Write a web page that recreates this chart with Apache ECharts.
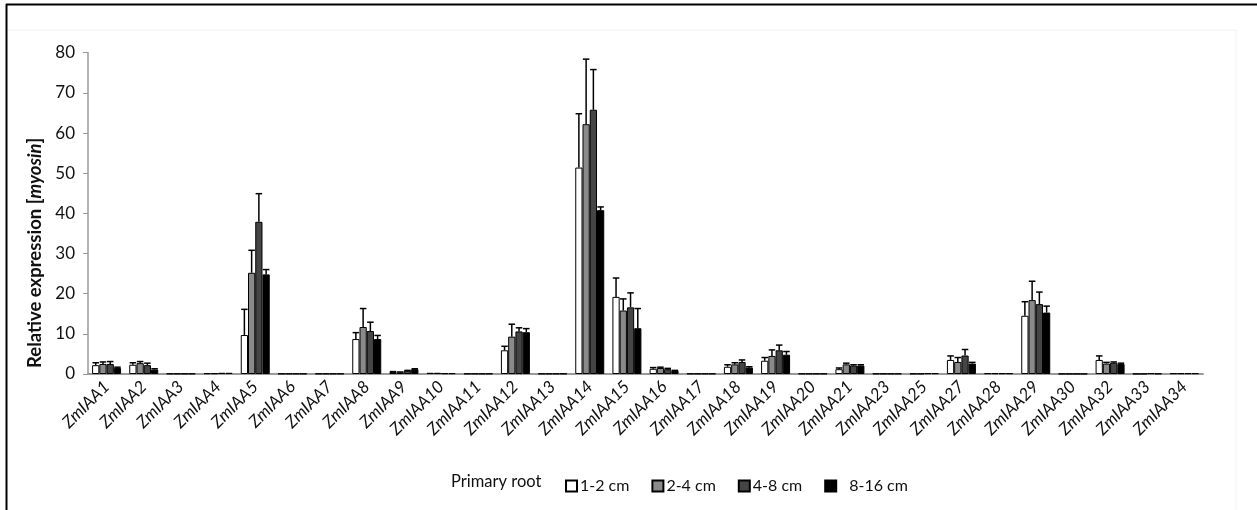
<!DOCTYPE html>
<html>
<head>
<meta charset="utf-8">
<script src="https://cdn.jsdelivr.net/npm/echarts@6/dist/echarts.min.js"></script>
<style>
html,body{margin:0;padding:0;background:#fff;}
#chart{width:1257px;height:510px;}
</style>
</head>
<body>
<div id="chart"></div>
<script>
var categories = ['ZmIAA1','ZmIAA2','ZmIAA3','ZmIAA4','ZmIAA5','ZmIAA6','ZmIAA7','ZmIAA8','ZmIAA9','ZmIAA10','ZmIAA11','ZmIAA12','ZmIAA13','ZmIAA14','ZmIAA15','ZmIAA16','ZmIAA17','ZmIAA18','ZmIAA19','ZmIAA20','ZmIAA21','ZmIAA23','ZmIAA25','ZmIAA27','ZmIAA28','ZmIAA29','ZmIAA30','ZmIAA32','ZmIAA33','ZmIAA34'];
var seriesNames = ['1-2 cm','2-4 cm','4-8 cm','8-16 cm'];
var v12 = [2.2,2.3,0.1,0.2,9.7,0.1,0.1,8.7,0.5,0.3,0.1,5.9,0.1,51.4,19.2,1.3,0.1,1.8,3.3,0.1,1.2,0.1,0.1,3.5,0.2,14.5,0.05,3.5,0.05,0.2];
var e12 = [0.6,0.5,0,0,6.4,0,0,1.6,0.1,0,0,1.0,0,13.4,4.7,0.3,0,0.5,0.8,0,0.3,0,0,1.0,0,3.5,0,1.0,0,0];
var v24 = [2.5,2.7,0.1,0.2,25.2,0.1,0.1,11.7,0.4,0.3,0.1,9.3,0.1,62.2,15.8,1.5,0.1,2.4,4.5,0.1,2.4,0.1,0.1,3.0,0.2,18.4,0.05,2.6,0.05,0.2];
var e24 = [0.5,0.4,0,0,5.6,0,0,4.6,0.1,0,0,3.1,0,16.2,2.9,0.2,0,0.4,1.5,0,0.3,0,0,1.1,0,4.7,0,0.3,0,0];
var v48 = [2.5,2.2,0.1,0.3,37.9,0.1,0.1,10.7,0.8,0.2,0.1,10.6,0.1,65.8,16.6,1.2,0.1,3.0,5.9,0.1,2.1,0.1,0.2,4.6,0.2,17.4,0.05,2.8,0.2,0.2];
var e48 = [0.6,0.5,0,0,7.0,0,0,2.2,0.1,0,0,0.9,0,10.0,3.6,0.2,0,0.5,1.3,0,0.2,0,0,1.5,0,3.0,0,0.2,0,0];
var v816 = [1.5,1.1,0.1,0.3,24.8,0.1,0.1,8.7,1.2,0.2,0.1,10.4,0.1,40.8,11.4,0.8,0.1,1.6,4.8,0.1,2.1,0.1,0.2,2.6,0.2,15.3,0.05,2.5,0.1,0.2];
var e816 = [0.2,0.2,0,0,1.2,0,0,0.9,0.1,0,0,0.9,0,0.8,4.9,0.1,0,0.2,0.8,0,0.2,0,0,0.3,0,1.6,0,0.2,0,0];
var yTicks = [0,10,20,30,40,50,60,70,80];

var values = [v12, v24, v48, v816];
var errors = [e12, e24, e48, e816];
var colors = ['#ffffff','#8a8a8a','#454545','#000000'];
var CAT_GAP = 0.22;
var FONT = 'Lato, "Open Sans", sans-serif';

var chart = echarts.init(document.getElementById('chart'));
var series = [];
seriesNames.forEach(function(name, i){
  series.push({
    name: name,
    type: 'bar',
    data: values[i],
    barGap: '0%',
    barCategoryGap: (CAT_GAP*100)+'%',
    itemStyle: {color: colors[i], borderColor: '#000', borderWidth: 1},
    emphasis: {disabled: true},
    z: 2
  });
});
seriesNames.forEach(function(name, i){
  var data = values[i].map(function(v, k){ return [k, v, v + errors[i][k]]; });
  series.push({
    name: name + ' err',
    type: 'custom',
    data: data,
    z: 3,
    silent: true,
    renderItem: function(params, api){
      var k = api.value(0);
      if (api.value(2) <= api.value(1)) return null;
      var center = api.coord([k, 0]);
      var catW = api.size([1, 0])[0];
      var bw = catW * (1 - CAT_GAP) / 4;
      var x = center[0] + (i - 1.5) * bw;
      var y0 = api.coord([k, api.value(1)])[1];
      var y1 = api.coord([k, api.value(2)])[1];
      var cap = bw * 0.9;
      var st = {stroke: '#000', lineWidth: 1.5};
      return {type: 'group', children: [
        {type: 'line', shape: {x1: x, y1: y0, x2: x, y2: y1}, style: st},
        {type: 'line', shape: {x1: x - cap/2, y1: y1, x2: x + cap/2, y2: y1}, style: st}
      ]};
    },
    encode: {x: 0, y: [1, 2]}
  });
});

var legendData = seriesNames.map(function(n, i){
  return i === 3 ? {name: n, textStyle: {padding: [0,0,0,8]}} : {name: n};
});

chart.setOption({
  backgroundColor: '#ffffff',
  animation: false,
  grid: {left: 88, right: 54, top: 52.7, bottom: 136, containLabel: false},
  legend: {
    data: legendData,
    left: 560, top: 473,
    itemWidth: 11, itemHeight: 11, itemGap: 22,
    icon: 'rect',
    textStyle: {fontFamily: FONT, fontSize: 16, color: '#111', padding: [0,0,0,-2]},
    selectedMode: false
  },
  graphic: [
    {type: 'line', shape: {x1: 6, y1: 4.5, x2: 1257, y2: 4.5}, style: {stroke: '#000', lineWidth: 2}},
    {type: 'line', shape: {x1: 6.5, y1: 4, x2: 6.5, y2: 510}, style: {stroke: '#000', lineWidth: 2}},
    {type: 'line', shape: {x1: 8, y1: 30, x2: 1236, y2: 30}, style: {stroke: '#f2f2f2', lineWidth: 1}},
    {type: 'line', shape: {x1: 1236, y1: 30, x2: 1236, y2: 510}, style: {stroke: '#f2f2f2', lineWidth: 1}},
    {type: 'text', left: 451, top: 473, style: {text: 'Primary root', fontFamily: FONT, fontSize: 16.5, fill: '#111'}},
    {type: 'text', x: 35, y: 368, rotation: Math.PI/2,
     style: {
       text: '{b|Relative expression [}{i|myosin}{b|]}',
       align: 'left', verticalAlign: 'middle',
       rich: {
         b: {fontFamily: FONT, fontWeight: 'bold', fontSize: 18.5, fill: '#111'},
         i: {fontFamily: FONT, fontWeight: 'bold', fontStyle: 'italic', fontSize: 18.5, fill: '#111'}
       }
     }}
  ],
  xAxis: {
    type: 'category',
    data: categories,
    axisLine: {show: true, lineStyle: {color: '#9a9a9a', width: 2}},
    axisTick: {show: false},
    axisLabel: {rotate: 45, interval: 0, margin: 10, fontFamily: FONT, fontStyle: 'italic', fontSize: 17, color: '#111'},
    splitLine: {show: false}
  },
  yAxis: {
    type: 'value',
    min: yTicks[0], max: yTicks[yTicks.length-1], interval: 10,
    axisLine: {show: true, lineStyle: {color: '#9a9a9a', width: 1.5}},
    axisTick: {show: true, length: 5, lineStyle: {color: '#9a9a9a'}},
    axisLabel: {margin: 13, fontFamily: FONT, fontSize: 17, color: '#111'},
    splitLine: {show: false}
  },
  series: series
});
</script>
</body>
</html>
